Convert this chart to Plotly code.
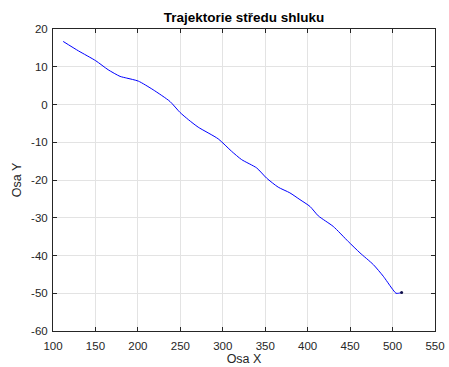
import plotly.graph_objects as go

# Trajectory of the cluster centre
x_pos = [112, 130, 150.3, 165, 179, 186.8, 200.5, 218, 237.8, 249.6, 259.4, 271,
         294.6, 310.4, 322.2, 339.9, 351.6, 365.3, 379.0, 390.9, 402.7, 412.5,
         430.1, 447.8, 461.6, 477.3, 489.1, 498.9, 504, 507, 510.7]
y_pos = [16.7, 14.2, 11.6, 9.2, 7.45, 7.0, 6.2, 3.9, 0.8, -2.1, -4.0, -6.0,
         -9.1, -12.4, -14.6, -16.8, -19.5, -21.9, -23.4, -25.2, -27.0, -29.5,
         -32.3, -36.3, -39.3, -42.4, -45.5, -48.6, -50.0, -50.0, -49.8]

x_ticks = [100, 150, 200, 250, 300, 350, 400, 450, 500, 550]
y_ticks = [-60, -50, -40, -30, -20, -10, 0, 10, 20]
y_tick_text = ["-60", "-50", "-40", "-30", "-20", "-10", "0", "10", "20"]

font_family = "Liberation Sans, Arial, Helvetica, sans-serif"

fig = go.Figure()
fig.add_trace(go.Scatter(
    x=x_pos, y=y_pos, mode="lines",
    line=dict(color="#0000ff", width=1, shape="spline", smoothing=0.6),
    showlegend=False,
))
fig.add_trace(go.Scatter(
    x=[x_pos[-1]], y=[y_pos[-1]], mode="markers",
    marker=dict(color="#10104a", size=3),
    showlegend=False,
))

axis_common = dict(
    showgrid=True, gridcolor="#e3e3e3", gridwidth=1,
    zeroline=False, automargin=False,
    showline=True, linecolor="#262626", linewidth=1,
    mirror="ticks", ticks="inside", ticklen=4, tickcolor="#262626",
    tickfont=dict(family=font_family, size=11.5, color="#262626"),
)

fig.update_layout(
    width=449, height=367,
    margin=dict(l=53, r=14, t=29, b=36),
    paper_bgcolor="white", plot_bgcolor="white",
    title=dict(text="<b>Trajektorie středu shluku</b>", x=0.5, xref="paper",
               xanchor="center", y=1, yref="paper", yanchor="bottom",
               pad=dict(b=7), automargin=False,
               font=dict(family=font_family, size=13.5, color="#000000")),
    xaxis=dict(range=[100, 550], tickvals=x_ticks, ticklabelstandoff=4,
               **axis_common,
               title=dict(text="Osa X", standoff=2,
                          font=dict(family=font_family, size=12.5, color="#262626"))),
    yaxis=dict(range=[-60, 20], tickvals=y_ticks, ticktext=y_tick_text,
               ticklabelstandoff=2, **axis_common,
               title=dict(text="Osa Y", standoff=6,
                          font=dict(family=font_family, size=12.5, color="#262626"))),
)

fig.write_html("out.html")
